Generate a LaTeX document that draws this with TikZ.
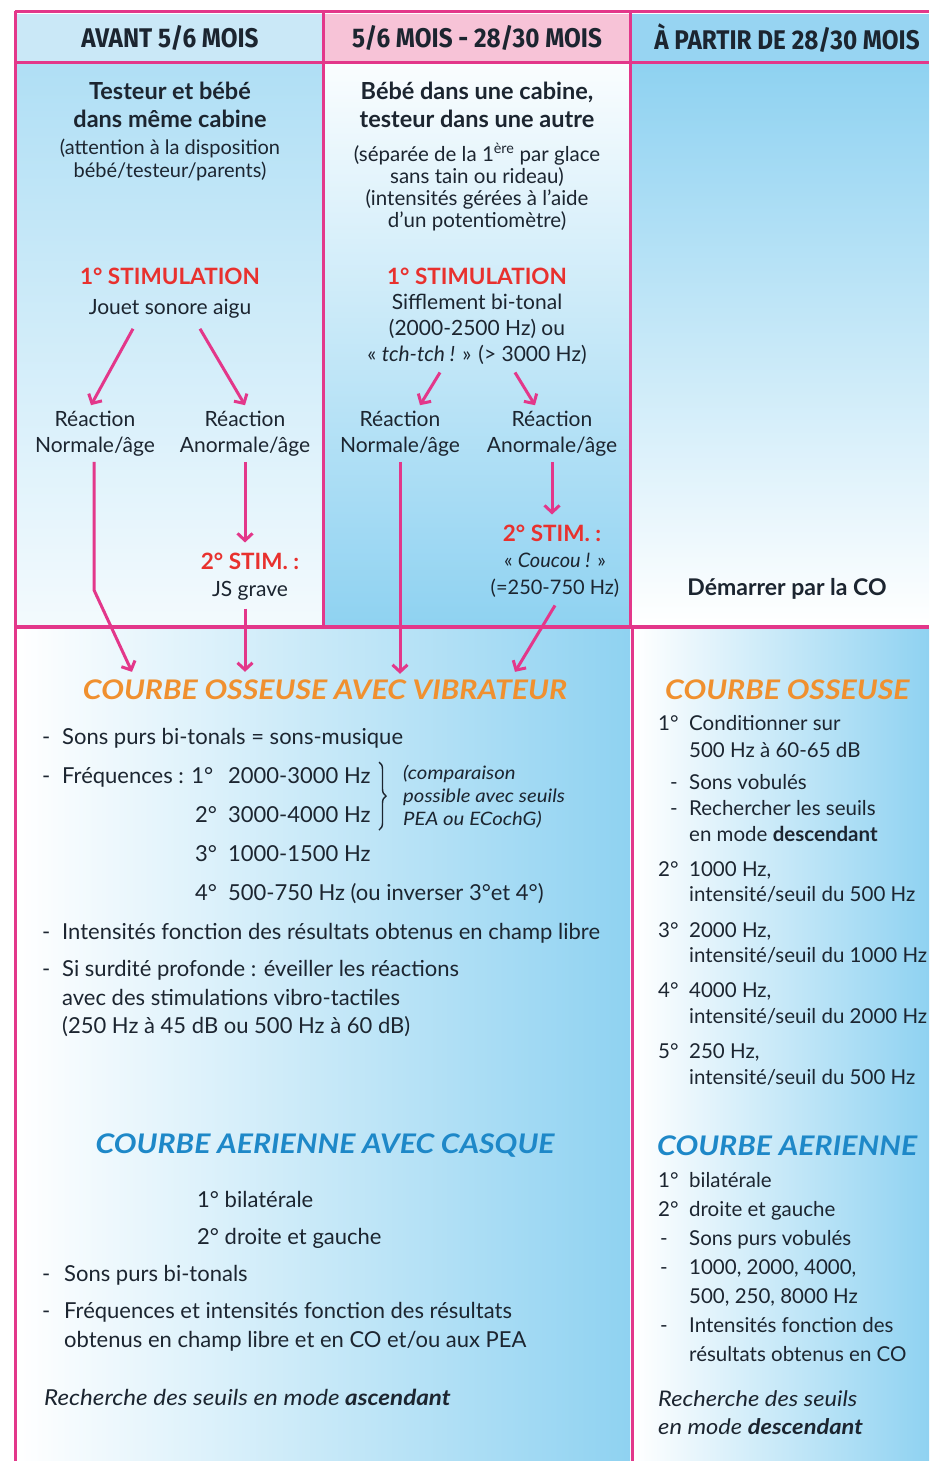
\documentclass[tikz,border=0pt]{standalone}
\usepackage{fontspec}
\setmainfont{Lato}
\newfontfamily\hdfont[FakeStretch=0.9]{Fira Sans}
\newfontfamily\widefont[FakeStretch=1.12]{Lato}
\newfontfamily\itwide[FakeStretch=1.1]{Lato}
\usetikzlibrary{arrows.meta,decorations.pathreplacing}
\definecolor{pk}{HTML}{E3378A}
\definecolor{ink}{HTML}{1C2530}
\definecolor{stimred}{HTML}{E8312E}
\definecolor{orng}{HTML}{F0902F}
\definecolor{tblue}{HTML}{1E88C8}
\definecolor{hdA}{HTML}{CAE8F7}
\definecolor{hdB}{HTML}{F7C3D7}
\definecolor{hdC}{HTML}{97D4F2}
\definecolor{sky}{HTML}{8FD2F1}
\definecolor{skyl}{HTML}{B0DFF5}
\tikzset{
  pkline/.style={draw=pk, line width=3pt},
  tx/.style={inner sep=0pt, text=ink, font=\fontsize{21}{26}\selectfont, align=center},
  smA/.style={inner sep=0pt, text=ink, font=\fontsize{20}{23}\selectfont, align=center},
  smB/.style={inner sep=0pt, text=ink, font=\fontsize{20.5}{22}\selectfont, align=center},
  bd/.style={inner sep=0pt, text=ink, font=\bfseries\fontsize{23.5}{28}\selectfont, align=center},
  hd/.style={inner sep=0pt, text=ink, font=\hdfont\bfseries\fontsize{27}{30}\selectfont},
  stimt/.style={inner sep=0pt, text=stimred, font=\bfseries\fontsize{22.5}{26}\selectfont},
  otitle/.style={inner sep=0pt, text=orng, font=\widefont\bfseries\itshape\fontsize{27}{30}\selectfont},
  btitle/.style={inner sep=0pt, text=tblue, font=\widefont\bfseries\itshape\fontsize{27}{30}\selectfont},
  lt/.style={inner sep=0pt, text=ink, anchor=base west, font=\fontsize{22}{26}\selectfont},
  rt/.style={inner sep=0pt, text=ink, anchor=base west, font=\fontsize{20.5}{25}\selectfont},
  it/.style={inner sep=0pt, text=ink, anchor=base west, font=\itwide\itshape\fontsize{18.5}{22}\selectfont},
  arr/.style={draw=pk, line width=3pt, -{Straight Barb[length=7pt,width=15pt,line width=3pt]}},
}
\begin{document}
\begin{tikzpicture}[x=1pt,y=-1pt]
\fill[white] (0,0) rectangle (929,1461);
\useasboundingbox (0,0) rectangle (929,1461);
% header fills
\fill[hdA] (17,14) rectangle (322,62);
\fill[hdB] (325,14) rectangle (629,62);
\fill[hdC] (632,14) rectangle (929,62);
% top cells
\shade[top color=skyl, bottom color=white!85!skyl] (17,65) rectangle (322,625);
\shade[top color=white!95!sky, bottom color=sky] (325,65) rectangle (629,625);
\shade[top color=sky, bottom color=white] (632,65) rectangle (929,625);
% bottom cells
\shade[left color=white, right color=sky] (17,629) rectangle (630,1461);
\shade[left color=white, right color=sky] (634,629) rectangle (929,1461);
% lines
\draw[pkline] (15,12) -- (929,12);
\draw[pkline] (15,63) -- (929,63);
\draw[pkline] (15,11) -- (15,1461);
\draw[pkline] (323,12) -- (323,627);
\draw[pkline] (630,12) -- (630,627);
\draw[pk, line width=4pt] (15,627) -- (929,627);
\draw[pkline] (632,627) -- (632,1461);

% headers
\node[hd] (h1) at (170,38) {AVANT 5/6 MOIS};
\node[hd] (h2) at (477,38) {5/6 MOIS - 28/30 MOIS};
\node[hd] (h3) at (787,38) {À PARTIR DE 28/30 MOIS};

% column 1 top
\node[bd] (t1) at (170,105) {Testeur et bébé\\dans même cabine};
\node[smA] (t1s) at (170,160) {(attention à la disposition\\bébé/testeur/parents)};
\node[stimt] (st1) at (170,276) {1° STIMULATION};
\node[tx] (jouet) at (170,309) {Jouet sonore aigu};
\node[tx] (rn1) at (95,434) {Réaction\\Normale/âge};
\node[tx] (ra1) at (245,434) {Réaction\\Anormale/âge};
\node[stimt] (s2a) at (250,561) {2° STIM. :};
\node[tx] (js) at (250,591) {JS grave};

% column 2 top
\node[bd] (t2) at (477,105) {Bébé dans une cabine,\\testeur dans une autre};
\node[smB] (t2s) at (477,187) {(séparée de la 1\textsuperscript{ère} par glace\\sans tain ou rideau)\\(intensités gérées à l’aide\\d’un potentiomètre)};
\node[stimt] (st2) at (477,276) {1° STIMULATION};
\node[tx] (sif) at (477,329) {Sifflement bi-tonal\\(2000-2500 Hz) ou\\« \textit{tch-tch !} » (> 3000 Hz)};
\node[tx] (rn2) at (400,434) {Réaction\\Normale/âge};
\node[tx] (ra2) at (552,434) {Réaction\\Anormale/âge};
\node[stimt] (s2b) at (552,533) {2° STIM. :};
\node[tx, font=\fontsize{20}{27}\selectfont] (cou) at (555,575) {« \textit{Coucou !} »\\(=250-750 Hz)};

% column 3 top
\node[bd, font=\bfseries\fontsize{23}{28}\selectfont] (demar) at (787,589) {Démarrer par la CO};

% bottom-left titles
\node[otitle] (cov) at (325,690) {COURBE OSSEUSE AVEC VIBRATEUR};
\node[btitle] (cac) at (325,1146) {COURBE AERIENNE AVEC CASQUE};

% arrows top
\draw[arr] ([shift={(-37,10)}]jouet.south) -- ([shift={(-4,-6)}]rn1.north);
\draw[arr] ([shift={(30,10)}]jouet.south) -- ([shift={(0,-6)}]ra1.north);
\draw[arr] ([shift={(-37,8)}]sif.south) -- ([shift={(20,-6)}]rn2.north);
\draw[arr] ([shift={(38,8)}]sif.south) -- ([shift={(-17,-6)}]ra2.north);
\coordinate (bend1) at (94,590);
\draw[arr] ([shift={(-1,5)}]rn1.south) -- (bend1) -- ([shift={(-193,-8)}]cov.north);
\draw[arr] ([shift={(0,5)}]ra1.south) -- ([shift={(-5,-10)}]s2a.north);
\draw[arr] ([shift={(-5,8)}]js.south) -- ([shift={(-80,-8)}]cov.north);
\draw[arr] ([shift={(0,5)}]rn2.south) -- ([shift={(75,-6)}]cov.north);
\draw[arr] ([shift={(0,5)}]ra2.south) -- ([shift={(0,-10)}]s2b.north);
\draw[arr] ([shift={(0,8)}]cou.south) -- ([shift={(190,-8)}]cov.north);

% bottom-left content
\node[lt] (b1d) at (42,744) {-};
\node[lt] (b1) at (62,744) {Sons purs bi-tonals = sons-musique};
\node[lt] (b2d) at (42,783) {-};
\node[lt] (b2) at (62,783) {Fréquences : 1°};
\node[lt] (f1) at (228,783) {2000-3000 Hz};
\node[lt] (f2n) at (195,822) {2°};
\node[lt] (f2) at (228,822) {3000-4000 Hz};
\node[lt] (f3n) at (195,861) {3°};
\node[lt] (f3) at (228,861) {1000-1500 Hz};
\node[lt] (f4n) at (195,900) {4°};
\node[lt] (f4) at (228,900) {500-750 Hz (ou inverser 3°et 4°)};
\draw[ink, line width=1.4pt, decorate, decoration={brace, amplitude=7pt}] (379,762) -- (379,830);
\node[it] (cmp1) at (403,779) {(comparaison};
\node[it] (cmp2) at (403,802) {possible avec seuils};
\node[it] (cmp3) at (403,825) {PEA ou ECochG)};
\node[lt] (b3d) at (42,939) {-};
\node[lt] (b3) at (62,939) {Intensités fonction des résultats obtenus en champ libre};
\node[lt] (b4d) at (42,976) {-};
\node[lt] (b4) at (62,976) {Si surdité profonde : éveiller les réactions};
\node[lt] (b4b) at (62,1005) {avec des stimulations vibro-tactiles};
\node[lt] (b4c) at (62,1033) {(250 Hz à 45 dB ou 500 Hz à 60 dB)};

\node[lt] (c1) at (197,1207) {1° bilatérale};
\node[lt] (c2) at (197,1244) {2° droite et gauche};
\node[lt] (c3d) at (42,1281) {-};
\node[lt] (c3) at (64,1281) {Sons purs bi-tonals};
\node[lt] (c4d) at (42,1318) {-};
\node[lt] (c4) at (64,1318) {Fréquences et intensités fonction des résultats};
\node[lt] (c4b) at (64,1347) {obtenus en champ libre et en CO et/ou aux PEA};
\node[lt, font=\itwide\itshape\fontsize{22}{26}\selectfont] (c5) at (44,1405) {Recherche des seuils en mode \textbf{ascendant}};

% bottom-right content
\node[otitle, anchor=west] (ro) at (665,690) {COURBE OSSEUSE};
\node[rt] (r1n) at (658,730) {1°};
\node[rt] (r1) at (689,730) {Conditionner sur};
\node[rt] (r1b) at (689,757) {500 Hz à 60-65 dB};
\node[rt] (r2d) at (670,789) {-};
\node[rt] (r2) at (689,789) {Sons vobulés};
\node[rt] (r3d) at (670,815) {-};
\node[rt] (r3) at (689,815) {Rechercher les seuils};
\node[rt] (r3b) at (689,841) {en mode \textbf{descendant}};
\node[rt] (r4n) at (658,876) {2°};
\node[rt] (r4) at (689,876) {1000 Hz,};
\node[rt] (r4b) at (689,901) {intensité/seuil du 500 Hz};
\node[rt] (r5n) at (658,937) {3°};
\node[rt] (r5) at (689,937) {2000 Hz,};
\node[rt] (r5b) at (689,962) {intensité/seuil du 1000 Hz};
\node[rt] (r6n) at (658,997) {4°};
\node[rt] (r6) at (689,997) {4000 Hz,};
\node[rt] (r6b) at (689,1023) {intensité/seuil du 2000 Hz};
\node[rt] (r7n) at (658,1058) {5°};
\node[rt] (r7) at (689,1058) {250 Hz,};
\node[rt] (r7b) at (689,1084) {intensité/seuil du 500 Hz};

\node[btitle, anchor=west] (ra) at (657,1146) {COURBE AERIENNE};
\node[rt] (s1n) at (658,1187) {1°};
\node[rt] (s1) at (689,1187) {bilatérale};
\node[rt] (s2n) at (658,1216) {2°};
\node[rt] (s2) at (689,1216) {droite et gauche};
\node[rt] (s3d) at (660,1245) {-};
\node[rt] (s3) at (689,1245) {Sons purs vobulés};
\node[rt] (s4d) at (660,1274) {-};
\node[rt] (s4) at (689,1274) {1000, 2000, 4000,};
\node[rt] (s4b) at (689,1303) {500, 250, 8000 Hz};
\node[rt] (s5d) at (660,1332) {-};
\node[rt] (s5) at (689,1332) {Intensités fonction des};
\node[rt] (s5b) at (689,1361) {résultats obtenus en CO};
\node[rt, font=\itwide\itshape\fontsize{21.5}{25}\selectfont] (s6) at (658,1406) {Recherche des seuils};
\node[rt, font=\itwide\itshape\fontsize{21.5}{25}\selectfont] (s6b) at (658,1434) {en mode \textbf{descendant}};
\end{tikzpicture}
\end{document}
